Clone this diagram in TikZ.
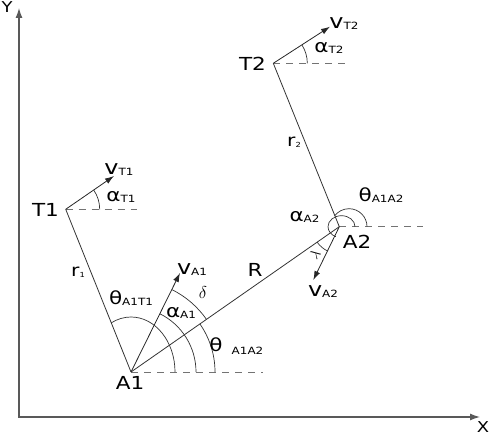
\documentclass[tikz,border=0pt]{standalone}
\usepackage{fontspec}
\setmainfont{DejaVu Sans}[FakeStretch=1.2]
\usetikzlibrary{arrows.meta}
\newcommand{\bigf}{\fontsize{18}{18}\selectfont}
\newcommand{\vf}{\fontsize{20}{20}\selectfont}
\newcommand{\subf}[1]{\raisebox{-0.8bp}{\fontsize{10}{10}\selectfont #1}}
\newcommand{\rsub}[1]{\raisebox{-0.5bp}{\fontsize{7}{7}\selectfont #1}}
\begin{document}
\begin{tikzpicture}[x=1bp,y=1bp,
  axisline/.style={draw=black!65, line width=1.3bp, {Latex[length=10bp,width=7bp]}-{Latex[length=10bp,width=7bp]}},
  segline/.style={draw=black!80, line width=0.8bp},
  vecline/.style={draw=black!85, line width=0.8bp, -{Latex[length=9bp,width=6bp]}},
  dashline/.style={draw=black!55, line width=0.8bp, dash pattern=on 7bp off 6bp},
  anglearc/.style={draw=black!80, line width=0.7bp},
  lab/.style={inner sep=0pt, anchor=base, font=\bigf},
  clab/.style={inner sep=0pt, anchor=center}]
\useasboundingbox (0,0) rectangle (491,436);
% points
\coordinate (O) at (19,19);
\coordinate (Ytip) at (19,428);
\coordinate (Xtip) at (480,19);
\coordinate (A1) at (131,64);
\coordinate (T1) at (65.7,226.7);
\coordinate (T2) at (273.3,372.7);
\coordinate (A2) at (339.3,209.3);
\coordinate (vA1) at (180,163);
\coordinate (vT1) at (114,260);
\coordinate (vT2) at (330,409.3);
\coordinate (vA2) at (313.3,156);
\coordinate (dA1) at (263,64);
\coordinate (dT1) at (137,226.7);
\coordinate (dT2) at (345,372.7);
\coordinate (dA2) at (423,209.3);
% axes
\draw[axisline] (Ytip) -- (O) -- (Xtip);
% dashed references
\draw[dashline] (A1) -- (dA1);
\draw[dashline] (T1) -- (dT1);
\draw[dashline] (T2) -- (dT2);
\draw[dashline] (A2) -- (dA2);
% segments
\draw[segline] (T1) -- (A1);
\draw[segline] (A1) -- (A2);
\draw[segline] (A2) -- (T2);
% velocity vectors
\draw[vecline] (A1) -- (vA1);
\draw[vecline] (T1) -- (vT1);
\draw[vecline] (T2) -- (vT2);
\draw[vecline] (A2) -- (vA2);
% angle arcs
\draw[anglearc] ([shift={(34,0)}]T1) arc[start angle=0,end angle=34.6,radius=34];
\draw[anglearc] ([shift={(34,0)}]T2) arc[start angle=0,end angle=32.8,radius=34];
\draw[anglearc] ([shift={(44,0)}]A1) arc[start angle=0,end angle=117,x radius=44,y radius=55];
\draw[anglearc] ([shift={(65,0)}]A1) arc[start angle=0,end angle=63.7,radius=65];
\draw[anglearc] ([shift={(84,0)}]A1) arc[start angle=0,end angle=34.9,radius=84];
\draw[anglearc] ([shift={(34.9:92)}]A1) arc[start angle=34.9,end angle=63.7,radius=92];
\draw[anglearc] ([shift={(27.7,0)}]A2) arc[start angle=0,end angle=143,radius=18];
\draw[anglearc] ([shift={(15.7,0)}]A2) arc[start angle=0,end angle=245,x radius=13.5,y radius=11];
\draw[anglearc] ([shift={(214.9:27)}]A2) arc[start angle=214.9,end angle=244,radius=27];
% labels
\node[lab] (lA1) at (130,46) {A1};
\node[lab] (lT1) at (45.5,219.3) {T1};
\node[lab] (lT2) at (252.5,365) {T2};
\node[lab] (lA2) at (357,187.7) {A2};
\node[lab] (lR) at (255,159.3) {R};
\node[lab,font=\fontsize{17}{17}\selectfont] (lr1) at (78,159.3) {r\rsub{1}};
\node[lab,font=\fontsize{17}{17}\selectfont] (lr2) at (294,289.3) {r\rsub{2}};
\node[lab] (lvT1) at (119,261) {{\vf v}\subf{T1}};
\node[lab] (laT1) at (121,234) {α\subf{T1}};
\node[lab] (lvT2) at (344,407.7) {{\vf v}\subf{T2}};
\node[lab] (laT2) at (329,383) {α\subf{T2}};
\node[lab] (lthA2) at (381,234) {θ\subf{A1A2}};
\node[lab] (laA2) at (304.5,214) {α\subf{A2}};
\node[lab] (lvA2) at (323,139.3) {{\vf v}\subf{A2}};
\node[lab] (lvA1) at (192,161) {{\vf v}\subf{A1}};
\node[lab] (laA1) at (181,118) {α\subf{A1}};
\node[lab] (lthA1T1) at (131,131) {θ\subf{A1T1}};
\node[lab] (lthA1) at (216,84.3) {θ};
\node[lab] (lthA1sub) at (247.5,82.7) {\subf{A1A2}};
\node[clab] (ldelta) at (203,143.5) {\fontsize{17}{17}\selectfont$\delta$};
\node[clab,rotate=55] (llambda) at (315,182) {\fontsize{14}{14}\selectfont$\lambda$};
\node[lab,font=\fontsize{15}{15}\selectfont] (lX) at (483,3.5) {X};
\node[lab,font=\fontsize{15}{15}\selectfont] (lY) at (7,423.5) {Y};
\end{tikzpicture}
\end{document}
